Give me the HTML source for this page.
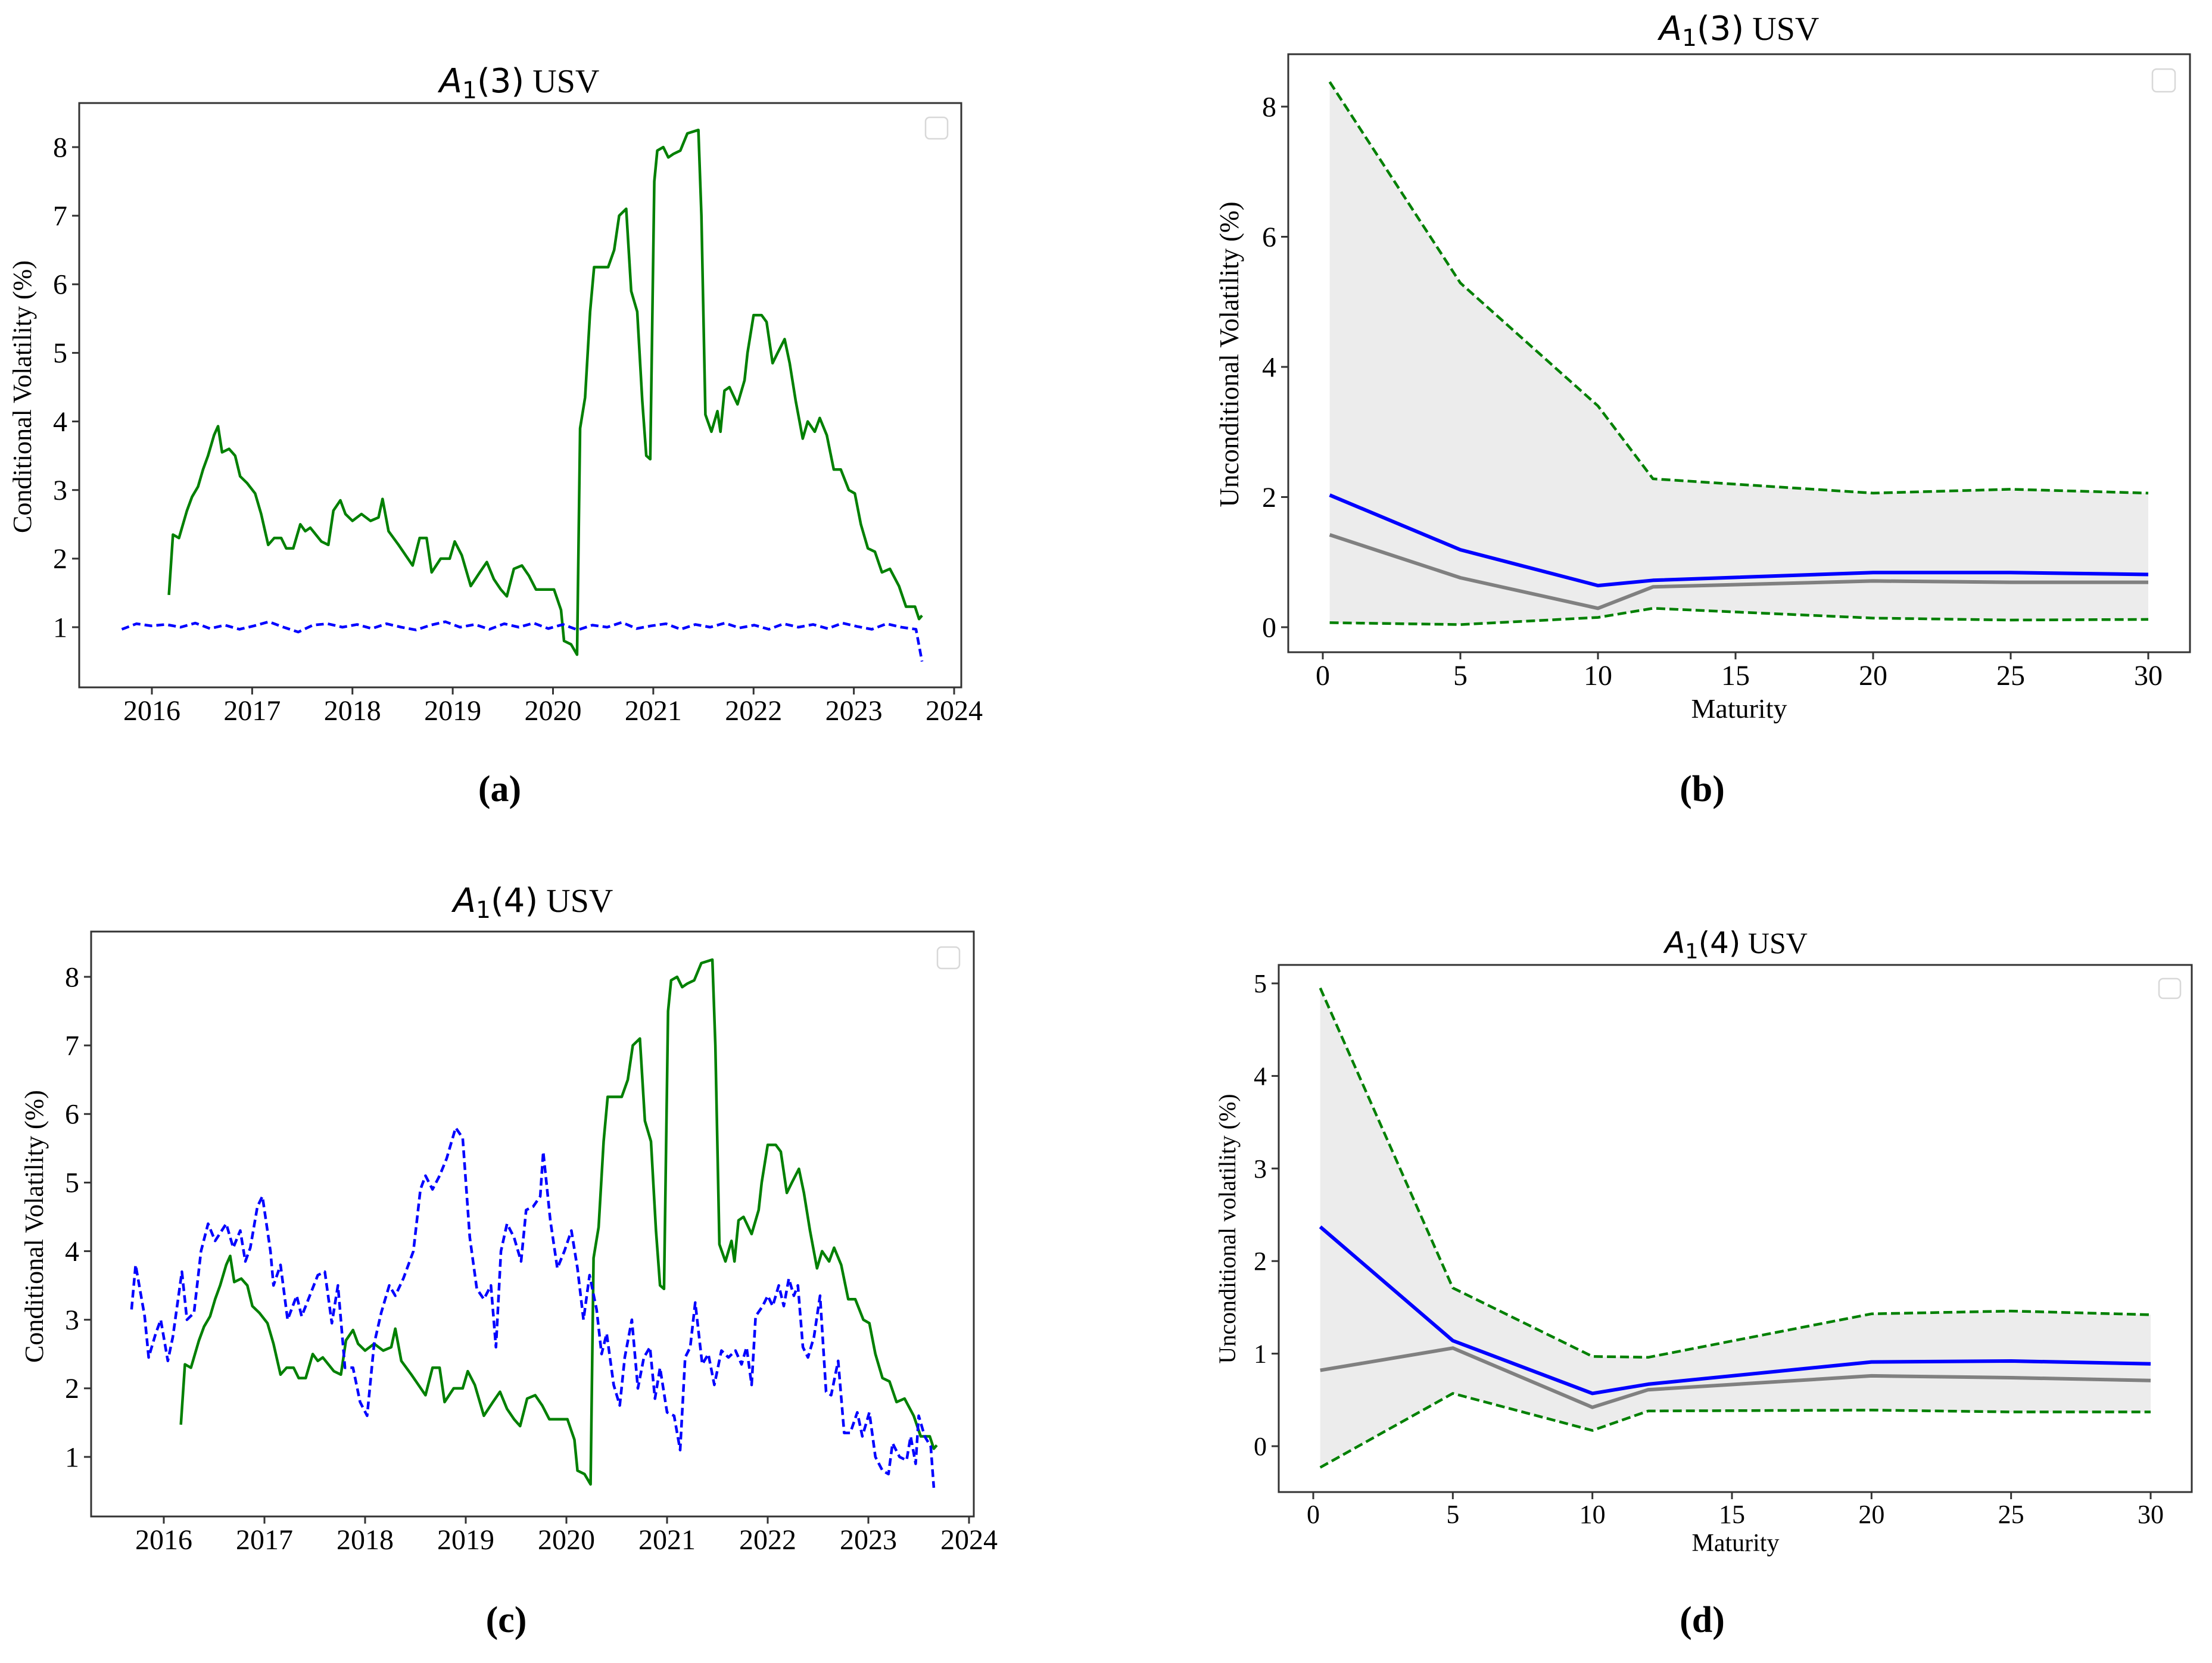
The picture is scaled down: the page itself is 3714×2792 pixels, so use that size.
<!DOCTYPE html>
<html><head><meta charset="utf-8"><style>
html,body{margin:0;padding:0;background:#fff;}
svg text{font-family:"Liberation Serif","DejaVu Serif",serif;fill:#000;}
.math{font-family:"DejaVu Sans","Liberation Sans",sans-serif;font-style:italic;}
.mup{font-family:"DejaVu Sans","Liberation Sans",sans-serif;}
</style></head><body>
<svg id="fig" xmlns="http://www.w3.org/2000/svg" width="3714" height="2787" viewBox="0 0 3714 2787"></svg>
<script>
// ---------- DATA ----------
const yearTicks = [2016,2017,2018,2019,2020,2021,2022,2023,2024];
const greenDates = [2016.17,2016.21,2016.27,2016.35,2016.40,2016.46,2016.51,2016.56,2016.62,2016.66,2016.70,2016.77,2016.83,2016.88,2016.95,2017.03,2017.09,2017.16,2017.22,2017.29,2017.34,2017.41,2017.48,2017.53,2017.58,2017.69,2017.76,2017.81,2017.88,2017.93,2018.00,2018.09,2018.18,2018.26,2018.30,2018.36,2018.46,2018.53,2018.60,2018.67,2018.74,2018.79,2018.88,2018.97,2019.02,2019.09,2019.18,2019.27,2019.34,2019.41,2019.48,2019.54,2019.61,2019.69,2019.76,2019.83,2020.01,2020.08,2020.11,2020.18,2020.24,2020.27,2020.32,2020.37,2020.41,2020.55,2020.61,2020.66,2020.73,2020.78,2020.84,2020.89,2020.93,2020.97,2021.01,2021.04,2021.10,2021.15,2021.20,2021.27,2021.34,2021.45,2021.48,2021.52,2021.58,2021.64,2021.67,2021.71,2021.76,2021.84,2021.91,2021.94,2022.00,2022.08,2022.13,2022.19,2022.24,2022.31,2022.36,2022.42,2022.49,2022.54,2022.61,2022.66,2022.73,2022.80,2022.87,2022.95,2023.01,2023.07,2023.14,2023.21,2023.28,2023.36,2023.45,2023.52,2023.61,2023.65,2023.68];
const greenVals = [1.47,2.35,2.30,2.70,2.90,3.05,3.30,3.50,3.80,3.93,3.55,3.60,3.50,3.20,3.10,2.95,2.65,2.20,2.30,2.30,2.15,2.15,2.50,2.40,2.45,2.25,2.20,2.70,2.85,2.65,2.55,2.65,2.55,2.60,2.87,2.40,2.20,2.05,1.90,2.30,2.30,1.80,2.00,2.00,2.25,2.05,1.60,1.80,1.95,1.70,1.55,1.45,1.85,1.90,1.75,1.55,1.55,1.25,0.80,0.75,0.60,3.90,4.35,5.60,6.25,6.25,6.50,7.00,7.10,5.90,5.60,4.30,3.50,3.45,7.50,7.95,8.00,7.85,7.90,7.95,8.20,8.25,7.00,4.10,3.85,4.15,3.85,4.45,4.50,4.25,4.60,5.00,5.55,5.55,5.45,4.85,5.00,5.20,4.85,4.30,3.75,4.00,3.85,4.05,3.80,3.30,3.30,3.00,2.95,2.50,2.15,2.10,1.80,1.85,1.60,1.30,1.30,1.12,1.17];
const blueAStart = 2015.70, blueAEnd = 2023.68;
const blueAVals = [0.97,1.05,1.02,1.04,1.00,1.06,0.98,1.03,0.97,1.02,1.08,1.00,0.93,1.03,1.05,1.00,1.04,0.98,1.05,1.00,0.96,1.03,1.08,1.00,1.04,0.97,1.05,1.00,1.06,0.98,1.04,0.96,1.03,1.00,1.07,0.98,1.02,1.05,0.97,1.04,1.00,1.06,0.99,1.03,0.97,1.05,1.00,1.04,0.98,1.06,1.01,0.97,1.05,1.00,0.97,0.50];
const blueCDates = [2015.68,2015.72,2015.81,2015.85,2015.92,2015.97,2016.04,2016.09,2016.18,2016.23,2016.30,2016.37,2016.44,2016.51,2016.62,2016.69,2016.76,2016.81,2016.86,2016.93,2016.98,2017.06,2017.09,2017.16,2017.23,2017.32,2017.37,2017.45,2017.53,2017.60,2017.67,2017.73,2017.80,2017.88,2017.95,2018.02,2018.09,2018.16,2018.24,2018.30,2018.38,2018.48,2018.55,2018.60,2018.67,2018.74,2018.81,2018.90,2018.97,2019.04,2019.11,2019.18,2019.25,2019.30,2019.35,2019.41,2019.48,2019.55,2019.60,2019.67,2019.74,2019.77,2019.84,2019.91,2019.98,2020.05,2020.11,2020.17,2020.23,2020.30,2020.35,2020.40,2020.47,2020.53,2020.58,2020.65,2020.71,2020.77,2020.83,2020.88,2020.93,2021.00,2021.07,2021.13,2021.18,2021.23,2021.28,2021.35,2021.41,2021.47,2021.54,2021.61,2021.68,2021.74,2021.79,2021.84,2021.88,2021.95,2022.00,2022.05,2022.11,2022.16,2022.21,2022.26,2022.30,2022.35,2022.40,2022.46,2022.52,2022.58,2022.63,2022.70,2022.76,2022.82,2022.89,2022.94,2023.01,2023.07,2023.14,2023.20,2023.24,2023.31,2023.38,2023.42,2023.47,2023.50,2023.56,2023.62,2023.65];
const blueCVals = [3.15,3.80,3.05,2.45,2.80,3.00,2.40,2.75,3.70,3.00,3.10,4.00,4.40,4.15,4.40,4.05,4.30,3.85,4.05,4.65,4.80,4.00,3.50,3.80,3.00,3.35,3.05,3.35,3.65,3.70,2.95,3.50,2.30,2.30,1.80,1.60,2.65,3.10,3.50,3.35,3.60,4.00,4.90,5.10,4.90,5.10,5.35,5.80,5.65,4.20,3.45,3.30,3.50,2.60,4.00,4.40,4.20,3.85,4.60,4.65,4.80,5.45,4.45,3.75,4.00,4.30,3.75,3.00,3.65,3.15,2.50,2.80,2.05,1.75,2.45,3.00,2.00,2.45,2.60,1.85,2.30,1.65,1.60,1.10,2.45,2.60,3.25,2.35,2.50,2.05,2.55,2.45,2.55,2.35,2.60,2.05,3.05,3.20,3.35,3.20,3.50,3.20,3.60,3.35,3.50,2.60,2.45,2.75,3.35,1.95,1.90,2.40,1.35,1.35,1.65,1.30,1.65,1.00,0.80,0.75,1.20,1.00,0.95,1.30,0.90,1.60,1.30,1.15,0.55];

const maturities = [0.25,5,10,12,20,25,30];
const bUpper = [8.38,5.29,3.40,2.28,2.06,2.12,2.06];
const bBlue  = [2.03,1.19,0.64,0.72,0.84,0.84,0.81];
const bGray  = [1.42,0.76,0.29,0.62,0.71,0.69,0.69];
const bLower = [0.07,0.04,0.15,0.29,0.14,0.11,0.12];
const bTicksX = [0,5,10,15,20,25,30];
const bTicksY = [0,2,4,6,8];

const dUpper = [4.95,1.71,0.97,0.96,1.43,1.46,1.42];
const dBlue  = [2.37,1.14,0.57,0.67,0.91,0.92,0.89];
const dGray  = [0.82,1.06,0.42,0.61,0.76,0.74,0.71];
const dLower = [-0.23,0.57,0.17,0.38,0.39,0.37,0.37];
const dTicksY = [0,1,2,3,4,5];
const tsTicksY = [1,2,3,4,5,6,7,8];

// ---------- DRAW ----------
const NS = 'http://www.w3.org/2000/svg';
const svg = document.getElementById('fig');
function mk(tag, attrs, parent){
  const e = document.createElementNS(NS, tag);
  for (const k in attrs) e.setAttribute(k, attrs[k]);
  (parent||svg).appendChild(e);
  return e;
}
function scale(d0,d1,r0,r1){ return v => r0 + (v-d0)/(d1-d0)*(r1-r0); }

function frame(p, name){
  const g = mk('g', {});
  
  
  const r = mk('rect', {x:p.l, y:p.t, width:p.r-p.l, height:p.b-p.t, fill:'none', stroke:'#333', 'stroke-width':3}, g);
  
  
  return g;
}
function xTicks(g, p, ticks, sx, fs, off, name){
  ticks.forEach(t => {
    const x = sx(t);
    const l = mk('line', {x1:x, x2:x, y1:p.b, y2:p.b+12, stroke:'#333', 'stroke-width':3}, g);
    
    
    const tx = mk('text', {x:x, y:p.b+off, 'font-size':fs, 'text-anchor':'middle'}, g);
    tx.textContent = String(t);
    
    
  });
}
function yTicks(g, p, ticks, sy, fs, name){
  ticks.forEach(t => {
    const y = sy(t);
    const l = mk('line', {x1:p.l-12, x2:p.l, y1:y, y2:y, stroke:'#333', 'stroke-width':3}, g);
    
    
    const tx = mk('text', {x:p.l-20, y:y+fs*0.34, 'font-size':fs, 'text-anchor':'end'}, g);
    tx.textContent = String(t);
    
    
  });
}
function title(g, x, y, num, fs){
  const t = mk('text', {x:x, y:y, 'font-size':fs, 'text-anchor':'middle'}, g);
  
  
  const a = mk('tspan', {class:'math'}, t); a.textContent = 'A';
  const s = mk('tspan', {class:'mup', dy:fs*0.18, 'font-size':fs*0.7}, t); s.textContent = '1';
  const n = mk('tspan', {class:'mup', dy:-fs*0.18}, t); n.textContent = '(' + num + ')';
  const u = mk('tspan', {}, t); u.textContent = ' USV';
}
function ylabel(g, x, y, txt, fs){
  const t = mk('text', {x:x, y:y, 'font-size':fs, 'text-anchor':'middle', transform:`rotate(-90 ${x} ${y})`}, g);
  t.textContent = txt;
  
  
}
function textAt(g, x, y, txt, fs, name, weight){
  const t = mk('text', {x:x, y:y, 'font-size':fs, 'text-anchor':'middle', 'font-weight':weight||'normal'}, g);
  t.textContent = txt;
  
  
}
function legendBox(g, x, y, w, h){
  const r = mk('rect', {x:x, y:y, width:w, height:h, rx:7, fill:'#fff', stroke:'#d8d8d8', 'stroke-width':2.5}, g);
  
  
}
function pathPts(xs, ys, sx, sy){
  return xs.map((x,i) => (i?'L':'M') + sx(x).toFixed(1) + ',' + sy(ys[i]).toFixed(1)).join(' ');
}
function line(g, xs, ys, sx, sy, color, w, dash, name){
  const p = mk('path', {d:pathPts(xs,ys,sx,sy), fill:'none', stroke:color, 'stroke-width':w, 'stroke-linejoin':'round'}, g);
  if (dash) p.setAttribute('stroke-dasharray', dash);
  
  
}
function band(g, xs, lo, hi, sx, sy){
  let d = xs.map((x,i)=>(i?'L':'M')+sx(x).toFixed(1)+','+sy(hi[i]).toFixed(1)).join(' ');
  for (let i=xs.length-1;i>=0;i--) d += ' L'+sx(xs[i]).toFixed(1)+','+sy(lo[i]).toFixed(1);
  const p = mk('path', {d:d+' Z', fill:'#ececec', stroke:'none'}, g);
  
  
}

// Panel (a)
(function(){
  const p = {l:133, r:1614, t:173, b:1154};
  const sx = scale(2016, 2024, 255, 1602);
  const sy = scale(1, 8, 1053, 247);
  const g = frame(p, 'panel-a');
  const n = blueAVals.length;
  const step = (blueAEnd - 0.06 - blueAStart) / (n - 2);
  const blueDates = blueAVals.map((v,i)=> i < n-1 ? blueAStart + i*step : blueAEnd);
  line(g, greenDates, greenVals, sx, sy, '#008000', 4.5, null, 'green-volatility-line');
  line(g, blueDates, blueAVals, sx, sy, '#0000ff', 4.5, '13,7', 'blue-volatility-line');
  xTicks(g, p, yearTicks, sx, 48, 55, 'x-tick-label');
  yTicks(g, p, tsTicksY, sy, 48, 'y-tick-label');
  title(g, 872, 155, '3', 56);
  ylabel(g, 52, 666, 'Conditional Volatility (%)', 44);
  legendBox(g, 1554, 197, 37, 36);
  textAt(g, 839, 1345, '(a)', 62, 'panel-label-a', 'bold');
})();

// Panel (c)
(function(){
  const p = {l:153, r:1635, t:1564, b:2546};
  const sx = scale(2016, 2024, 275, 1627);
  const sy = scale(1, 8, 2446, 1640);
  const g = frame(p, 'panel-c');
  line(g, greenDates, greenVals, sx, sy, '#008000', 4.5, null, 'green-volatility-line');
  line(g, blueCDates, blueCVals, sx, sy, '#0000ff', 4.5, '13,7', 'blue-volatility-line');
  xTicks(g, p, yearTicks, sx, 48, 55, 'x-tick-label');
  yTicks(g, p, tsTicksY, sy, 48, 'y-tick-label');
  title(g, 895, 1531, '4', 56);
  ylabel(g, 72, 2059, 'Conditional Volatility (%)', 44);
  legendBox(g, 1574, 1590, 37, 36);
  textAt(g, 850, 2740, '(c)', 62, 'panel-label-c', 'bold');
})();

// Panel (b)
(function(){
  const p = {l:2163, r:3677, t:91, b:1095};
  const sx = scale(0, 30, 2221, 3607);
  const sy = scale(0, 8, 1053, 179);
  const g = frame(p, 'panel-b');
  band(g, maturities, bLower, bUpper, sx, sy);
  line(g, maturities, bUpper, sx, sy, '#008000', 4.5, '15,7', 'upper-bound-line');
  line(g, maturities, bLower, sx, sy, '#008000', 4.5, '15,7', 'lower-bound-line');
  line(g, maturities, bGray, sx, sy, '#808080', 6, null, 'gray-volatility-line');
  line(g, maturities, bBlue, sx, sy, '#0000ff', 6, null, 'blue-volatility-line');
  xTicks(g, p, bTicksX, sx, 48, 55, 'x-tick-label');
  yTicks(g, p, bTicksY, sy, 48, 'y-tick-label');
  textAt(g, 2920, 1205, 'Maturity', 46, 'x-axis-title');
  title(g, 2920, 67, '3', 56);
  ylabel(g, 2079, 595, 'Unconditional Volatility (%)', 45);
  legendBox(g, 3614, 116, 38, 38);
  textAt(g, 2858, 1345, '(b)', 62, 'panel-label-b', 'bold');
})();

// Panel (d)
(function(){
  const p = {l:2147, r:3680, t:1620, b:2505};
  const sx = scale(0, 30, 2205, 3611);
  const sy = scale(0, 5, 2428, 1651);
  const g = frame(p, 'panel-d');
  band(g, maturities, dLower, dUpper, sx, sy);
  line(g, maturities, dUpper, sx, sy, '#008000', 4.5, '15,7', 'upper-bound-line');
  line(g, maturities, dLower, sx, sy, '#008000', 4.5, '15,7', 'lower-bound-line');
  line(g, maturities, dGray, sx, sy, '#808080', 6, null, 'gray-volatility-line');
  line(g, maturities, dBlue, sx, sy, '#0000ff', 6, null, 'blue-volatility-line');
  xTicks(g, p, bTicksX, sx, 44, 52, 'x-tick-label');
  yTicks(g, p, dTicksY, sy, 44, 'y-tick-label');
  textAt(g, 2914, 2604, 'Maturity', 42, 'x-axis-title');
  title(g, 2915, 1600, '4', 50);
  ylabel(g, 2074, 2063, 'Unconditional volatility (%)', 40);
  legendBox(g, 3625, 1643, 36, 33);
  textAt(g, 2858, 2740, '(d)', 62, 'panel-label-d', 'bold');
})();
</script>
</body></html>
